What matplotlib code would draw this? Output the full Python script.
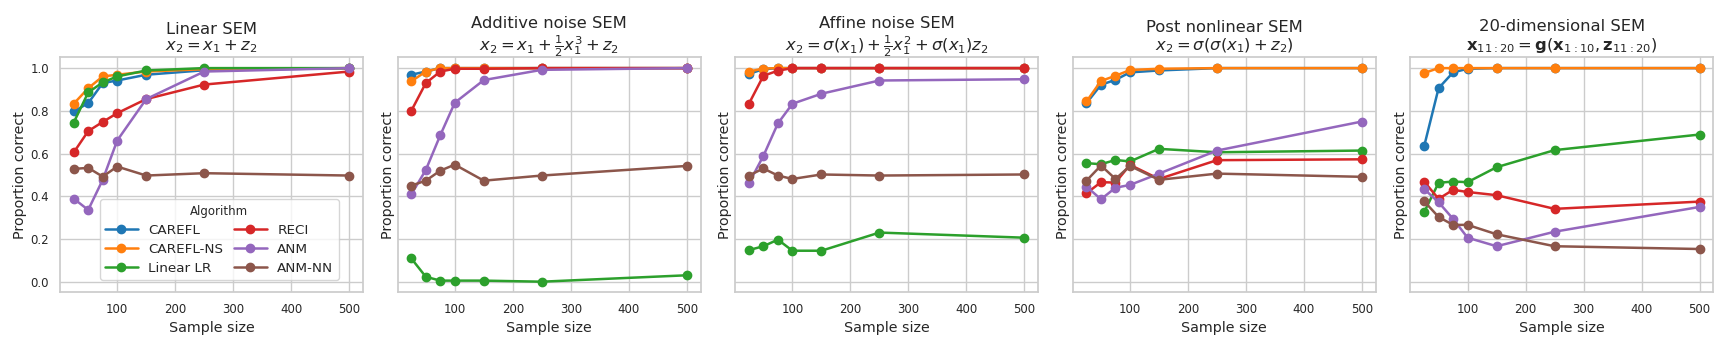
import numpy as np
import matplotlib.pyplot as plt
import seaborn as sns

sns.set_theme(style="whitegrid")
plt.rcParams['font.family'] = ['DejaVu Sans']

sizes = [25, 50, 75, 100, 150, 250, 500]
algorithms = ["CAREFL", "CAREFL-NS", "Linear LR", "RECI", "ANM", "ANM-NN"]
colors = ["#1f77b4", "#ff7f0e", "#2ca02c", "#d62728", "#9467bd", "#8c564b"]

titles = [
    "Linear SEM\n$x_2 = x_1 + z_2$",
    "Additive noise SEM\n$x_2 = x_1 + \\frac{1}{2}x_1^3 + z_2$",
    "Affine noise SEM\n$x_2 = \\sigma(x_1) + \\frac{1}{2}x_1^2 + \\sigma(x_1)z_2$",
    "Post nonlinear SEM\n$x_2 = \\sigma(\\sigma(x_1) + z_2)$",
    "20-dimensional SEM\n$\\mathbf{x}_{11:20} = \\mathbf{g}(\\mathbf{x}_{1:10}, \\mathbf{z}_{11:20})$",
]

# Linear SEM
linear = {
    "CAREFL":    [0.797, 0.836, 0.930, 0.942, 0.969, 0.990, 1.0],
    "CAREFL-NS": [0.833, 0.906, 0.961, 0.969, 0.984, 0.995, 1.0],
    "Linear LR": [0.745, 0.886, 0.933, 0.961, 0.989, 1.0, 1.0],
    "RECI":      [0.605, 0.705, 0.748, 0.789, 0.855, 0.923, 0.984],
    "ANM":       [0.389, 0.336, 0.477, 0.661, 0.855, 0.984, 1.0],
    "ANM-NN":    [0.528, 0.533, 0.492, 0.539, 0.497, 0.508, 0.497],
}

# Additive noise SEM
additive = {
    "CAREFL":    [0.969, 0.984, 1.0, 1.0, 1.0, 1.0, 1.0],
    "CAREFL-NS": [0.938, 0.984, 1.0, 1.0, 1.0, 1.0, 1.0],
    "Linear LR": [0.109, 0.023, 0.005, 0.005, 0.005, 0.0, 0.030],
    "RECI":      [0.800, 0.930, 0.984, 0.997, 0.997, 1.0, 1.0],
    "ANM":       [0.409, 0.523, 0.686, 0.838, 0.944, 0.992, 1.0],
    "ANM-NN":    [0.450, 0.473, 0.520, 0.548, 0.473, 0.497, 0.542],
}

# Affine noise SEM
affine = {
    "CAREFL":    [0.973, 0.995, 1.0, 1.0, 1.0, 1.0, 1.0],
    "CAREFL-NS": [0.984, 0.998, 1.0, 1.0, 1.0, 1.0, 1.0],
    "Linear LR": [0.148, 0.166, 0.197, 0.145, 0.145, 0.230, 0.206],
    "RECI":      [0.833, 0.964, 0.988, 1.0, 1.0, 1.0, 1.0],
    "ANM":       [0.461, 0.589, 0.741, 0.833, 0.880, 0.942, 0.948],
    "ANM-NN":    [0.497, 0.530, 0.497, 0.481, 0.502, 0.497, 0.502],
}

# Post nonlinear SEM
pnl = {
    "CAREFL":    [0.836, 0.922, 0.945, 0.980, 0.989, 1.0, 1.0],
    "CAREFL-NS": [0.844, 0.940, 0.964, 0.991, 0.997, 1.0, 1.0],
    "Linear LR": [0.555, 0.550, 0.570, 0.563, 0.622, 0.606, 0.614],
    "RECI":      [0.414, 0.466, 0.464, 0.547, 0.481, 0.569, 0.573],
    "ANM":       [0.445, 0.386, 0.440, 0.453, 0.506, 0.614, 0.750],
    "ANM-NN":    [0.473, 0.544, 0.481, 0.542, 0.477, 0.506, 0.491],
}

# 20-dimensional SEM
highdim = {
    "CAREFL":    [0.633, 0.906, 0.980, 0.997, 1.0, 1.0, 1.0],
    "CAREFL-NS": [0.977, 1.0, 1.0, 1.0, 1.0, 1.0, 1.0],
    "Linear LR": [0.325, 0.463, 0.469, 0.466, 0.536, 0.616, 0.689],
    "RECI":      [0.469, 0.388, 0.430, 0.420, 0.405, 0.341, 0.375],
    "ANM":       [0.434, 0.372, 0.294, 0.206, 0.166, 0.234, 0.350],
    "ANM-NN":    [0.377, 0.303, 0.266, 0.266, 0.222, 0.166, 0.153],
}

panels = [linear, additive, affine, pnl, highdim]

fig, axes = plt.subplots(1, 5, figsize=(17.27, 3.46), dpi=100, sharey=True)
fig.subplots_adjust(left=0.0347, right=0.9921, bottom=0.155, top=0.834, wspace=0.114)

for ax, data, title in zip(axes, panels, titles):
    for name, col in zip(algorithms, colors):
        ax.plot(sizes, data[name], '-o', color=col, label=name, lw=1.8, ms=6)
    ax.set_title(title, fontsize=11.8, color='.15', linespacing=1.15, pad=5)
    ax.set_xlabel('Sample size', fontsize=10.3, labelpad=3)
    ax.set_ylabel('Proportion correct', fontsize=10.3, labelpad=2)
    ax.tick_params(axis='both', labelsize=8.5, pad=2)
    ax.yaxis.set_tick_params(labelleft=(ax is axes[0]))
    ax.set_xticks([100, 200, 300, 400, 500])

axes[0].set_yticks([0.0, 0.2, 0.4, 0.6, 0.8, 1.0])
axes[0].legend(title='Algorithm', ncol=2, fontsize=9.7, title_fontsize=8.5,
               loc='lower left', bbox_to_anchor=(0.132, 0.052), borderaxespad=0,
               handlelength=2.4, columnspacing=0.8, borderpad=0.4, labelspacing=0.45)

plt.savefig('out.png')
